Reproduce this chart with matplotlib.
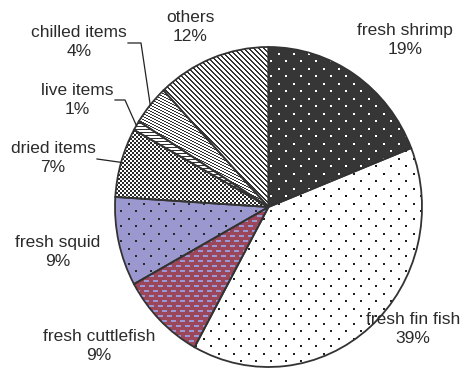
import numpy as np
import matplotlib
matplotlib.use("Agg")
import matplotlib.pyplot as plt
from matplotlib.lines import Line2D

# Export mix by product category (share of total, %)
categories = ["fresh shrimp", "fresh fin fish", "fresh cuttlefish", "fresh squid",
              "dried items", "live items", "chilled items", "others"]
shares = [19, 39, 9, 9, 7, 1, 4, 12]

W, H = 468, 375
DPI = 100
CX, CY = 268.5, 207.0      # pie centre in figure pixels (from top)
RX, RY = 153.5, 160.0      # horizontal / vertical radius in pixels

plt.rcParams["font.family"] = ["Liberation Sans", "DejaVu Sans"]

fig = plt.figure(figsize=(W / DPI, H / DPI), dpi=DPI)
ax = fig.add_axes([0, 0, 1, 1])

wedges, _ = ax.pie(shares, startangle=90, counterclock=False, radius=1.0,
                   center=(0, 0), wedgeprops=dict(facecolor="none",
                                                  edgecolor="#333333",
                                                  linewidth=1.3))
xlim = (-CX / RX, (W - CX) / RX)
ylim = (-(H - CY) / RY, CY / RY)
ax.set_aspect("auto")
ax.set_xlim(*xlim)
ax.set_ylim(*ylim)
ax.axis("off")


def px(x, y):
    """Figure-pixel position (y from top) to data coordinates."""
    return ((x - CX) / RX, (CY - y) / RY)


# ---- pixel textures for each slice ----
rows, cols = np.indices((H, W))


def rgb(hexcol):
    h = hexcol.lstrip("#")
    return np.array([int(h[i:i + 2], 16) / 255 for i in (0, 2, 4)])


def texture(bg, fg, mask):
    img = np.empty((H, W, 3))
    img[:] = rgb(bg)
    img[mask] = rgb(fg)
    return img


dots = (((cols % 15) < 2) & ((rows % 15) < 2)) | \
       ((((cols + 7) % 15) < 2) & (((rows + 7) % 15) < 2))
brick_shift = np.where((rows // 5) % 2 == 0, 0, 4)
bricks = ((rows % 5) < 2) & (((cols + brick_shift) % 9) < 5)
checker = ((cols // 2 + rows // 2) % 2) == 0
diag = ((cols - rows) % 5) < 2
diag_flat = ((cols - 2 * rows) % 6) < 2
horiz = (rows % 3) == 0

textures = {
    "fresh shrimp": texture("#363636", "#ffffff", dots),
    "fresh fin fish": texture("#ffffff", "#222222", dots),
    "fresh cuttlefish": texture("#9b4759", "#9a98d6", bricks),
    "fresh squid": texture("#9b97cf", "#2a2a2a", dots),
    "dried items": texture("#ffffff", "#2a2a2a", checker),
    "live items": texture("#ffffff", "#333333", horiz),
    "chilled items": texture("#ffffff", "#333333", diag_flat),
    "others": texture("#ffffff", "#333333", diag),
}

for w, name in zip(wedges, categories):
    im = ax.imshow(textures[name], extent=(xlim[0], xlim[1], ylim[0], ylim[1]),
                   origin="upper", interpolation="nearest", aspect="auto",
                   zorder=1)
    im.set_clip_path(w)
    w.set_zorder(2)

# ---- labels ----
label_pos = {
    "fresh shrimp": (405, 40),
    "fresh fin fish": (413, 329),
    "fresh cuttlefish": (99, 346),
    "fresh squid": (58, 252),
    "dried items": (53, 158),
    "live items": (77, 100),
    "chilled items": (79, 42),
    "others": (190, 27),
}
for name, val in zip(categories, shares):
    x, y = label_pos[name]
    ax.text(*px(x, y), f"{name}\n{val}%", ha="center", va="center",
            fontsize=12.5, color="#2b2b2b", linespacing=1.3, zorder=5)

# ---- leader lines for the narrow slices ----
bounds = np.concatenate([[0], np.cumsum(shares)]) / sum(shares)
leader_start = {
    "chilled items": [(128, 43), (141, 43)],
    "live items": [(115, 100), (125, 100)],
    "dried items": [(97, 159)],
}
for i, name in enumerate(categories):
    if name not in leader_start:
        continue
    mid = 0.5 * (bounds[i] + bounds[i + 1])
    theta = np.deg2rad(90 - 360 * mid)
    pts = [px(*p) for p in leader_start[name]] + [(np.cos(theta), np.sin(theta))]
    xs, ys = zip(*pts)
    ax.add_line(Line2D(xs, ys, color="#222222", linewidth=0.9, zorder=4))

fig.savefig("out.png", dpi=DPI)
